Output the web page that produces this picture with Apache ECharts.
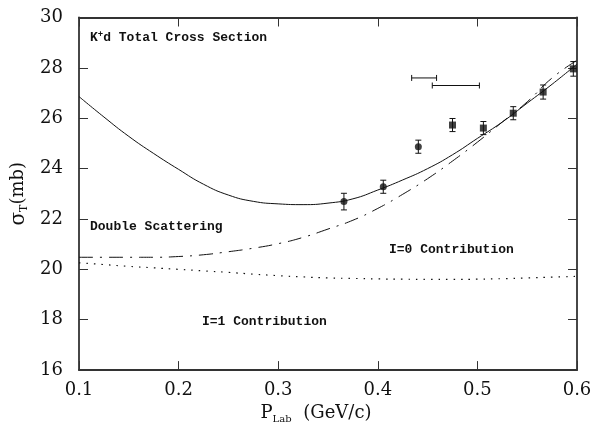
<!DOCTYPE html>
<html><head><meta charset="utf-8">
<script src="https://cdn.jsdelivr.net/npm/echarts@6/dist/echarts.min.js"></script>
<style>html,body{margin:0;padding:0;background:#fff}#c{width:599px;height:429px}</style>
</head><body><div id="c"></div>
<script>
// ---- data ----
const xTickValues = [0.1, 0.2, 0.3, 0.4, 0.5, 0.6];
const yTickValues = [16, 18, 20, 22, 24, 26, 28, 30];
const curveX = [0.1,0.125,0.15,0.175,0.2,0.225,0.25,0.275,0.3,0.325,0.35,0.375,0.4,0.425,0.45,0.475,0.5,0.525,0.55,0.575,0.6];
const totalCurve = [26.86,26.05,25.28,24.6,23.97,23.38,22.95,22.7,22.6,22.57,22.63,22.8,23.15,23.55,24.0,24.55,25.2,25.85,26.6,27.35,28.15];
const i0Curve = [20.48,20.48,20.48,20.48,20.51,20.58,20.7,20.84,21.02,21.27,21.6,21.95,22.42,22.98,23.6,24.3,25.05,25.85,26.65,27.6,28.3];
const i1Curve = [20.26,20.19,20.12,20.06,20.0,19.94,19.88,19.81,19.75,19.7,19.66,19.64,19.62,19.61,19.6,19.6,19.61,19.63,19.66,19.69,19.72];
const circleX = [0.366, 0.4055, 0.4407];
const circleY = [22.69, 23.28, 24.87];
const circleErr = [0.33, 0.26, 0.26];
const squareX = [0.475, 0.506, 0.536, 0.566, 0.5963];
const squareY = [25.73, 25.61, 26.2, 27.04, 27.96];
const squareErr = [0.26, 0.26, 0.26, 0.28, 0.29];
const resX0 = [0.434, 0.4547];
const resX1 = [0.459, 0.502];
const resY = [27.6, 27.3];

const zip = (a, b) => a.map((v, i) => [v, b[i]]);
const errData = zip(circleX, circleY).map((p, i) => [p[0], p[1], circleErr[i]])
  .concat(zip(squareX, squareY).map((p, i) => [p[0], p[1], squareErr[i]]));
const resData = resX0.map((v, i) => [v, resX1[i], resY[i]]);

const chart = echarts.init(document.getElementById('c'), null, {renderer: 'canvas'});
const ink = '#111';
const tickFont = {fontFamily: 'DejaVu Serif', fontSize: 18, color: ink};
const labelFont = {fontFamily: 'Liberation Mono', fontSize: 13, fontWeight: 'bold', fill: ink};

function vErr(params, api) {
  const x = api.value(0), y = api.value(1), e = api.value(2);
  const a = api.coord([x, y - e]), b = api.coord([x, y + e]);
  const w = 3;
  const st = {stroke: ink, lineWidth: 1};
  return {type: 'group', children: [
    {type: 'line', shape: {x1: a[0], y1: a[1], x2: b[0], y2: b[1]}, style: st},
    {type: 'line', shape: {x1: a[0] - w, y1: a[1], x2: a[0] + w, y2: a[1]}, style: st},
    {type: 'line', shape: {x1: b[0] - w, y1: b[1], x2: b[0] + w, y2: b[1]}, style: st}
  ]};
}
function hErr(params, api) {
  const a = api.coord([api.value(0), api.value(2)]), b = api.coord([api.value(1), api.value(2)]);
  const h = 3;
  const st = {stroke: ink, lineWidth: 1};
  return {type: 'group', children: [
    {type: 'line', shape: {x1: a[0], y1: a[1], x2: b[0], y2: b[1]}, style: st},
    {type: 'line', shape: {x1: a[0], y1: a[1] - h, x2: a[0], y2: a[1] + h}, style: st},
    {type: 'line', shape: {x1: b[0], y1: b[1] - h, x2: b[0], y2: b[1] + h}, style: st}
  ]};
}

const axisLine = {show: true, lineStyle: {color: '#333', width: 1.8}};
const axisTick = {show: true, inside: true, length: 9, lineStyle: {color: '#333', width: 1}};

chart.setOption({
  animation: false,
  backgroundColor: '#fff',
  grid: {left: 79, right: 22, top: 17.5, bottom: 56},
  xAxis: [{
    type: 'value', min: 0.1, max: 0.6, interval: 0.1, position: 'bottom',
    axisLine, axisTick, splitLine: {show: false},
    axisLabel: Object.assign({margin: 11, formatter: v => v.toFixed(1)}, tickFont),
    name: '{p|P}{s|Lab}{n| (GeV/c)}',
    nameLocation: 'middle', nameGap: 29,
    nameTextStyle: {padding: [0, 24, 0, 0], rich: {
      p: {fontFamily: 'DejaVu Serif', fontSize: 18, color: ink},
      s: {fontFamily: 'DejaVu Serif', fontSize: 10, color: ink, padding: [12, 6, 0, 0]},
      n: {fontFamily: 'DejaVu Serif', fontSize: 18, color: ink}
    }}
  }, {
    type: 'value', min: 0.1, max: 0.6, interval: 0.1, position: 'top',
    axisLine, axisTick, axisLabel: {show: false}, splitLine: {show: false}
  }],
  yAxis: [{
    type: 'value', min: 16, max: 30, interval: 2, position: 'left',
    axisLine, axisTick, splitLine: {show: false},
    axisLabel: Object.assign({margin: 16}, tickFont),
    name: '{g|σ}{s|T}{n|(mb)}',
    nameLocation: 'middle', nameGap: 45,
    nameTextStyle: {rich: {
      g: {fontFamily: 'DejaVu Serif', fontSize: 20, color: ink},
      s: {fontFamily: 'DejaVu Serif', fontSize: 11, color: ink, padding: [10, 0, 0, 0]},
      n: {fontFamily: 'DejaVu Serif', fontSize: 18, color: ink}
    }}
  }, {
    type: 'value', min: 16, max: 30, interval: 2, position: 'right',
    axisLine, axisTick, axisLabel: {show: false}, splitLine: {show: false}
  }],
  series: [
    {type: 'line', data: zip(curveX, totalCurve), showSymbol: false, smooth: true,
     lineStyle: {color: ink, width: 1}},
    {type: 'line', data: zip(curveX, i0Curve), showSymbol: false, smooth: true,
     lineStyle: {color: ink, width: 1, type: [14, 7, 2, 7]}},
    {type: 'line', data: zip(curveX, i1Curve), showSymbol: false, smooth: true,
     lineStyle: {color: ink, width: 1.2, type: [1.5, 6]}},
    {type: 'custom', data: errData, renderItem: vErr, z: 3},
    {type: 'custom', data: resData, renderItem: hErr, z: 3},
    {type: 'scatter', data: zip(circleX, circleY), symbol: 'circle', symbolSize: 7,
     itemStyle: {color: ink}, z: 4},
    {type: 'scatter', data: zip(squareX, squareY), symbol: 'rect', symbolSize: 7,
     itemStyle: {color: ink}, z: 4}
  ],
  graphic: [
    {type: 'text', left: 90, top: 30, style: {text: '{a|K}{b|+}{a|d Total Cross Section}',
      rich: {a: {fontFamily: 'Liberation Mono', fontSize: 13, fontWeight: 'bold', fill: ink},
             b: {fontFamily: 'Liberation Mono', fontSize: 9, fontWeight: 'bold', fill: ink, padding: [0, 0, 6, 0]}}}},
    {type: 'text', left: 90, top: 220, style: Object.assign({text: 'Double Scattering'}, labelFont)},
    {type: 'text', left: 389, top: 243, style: Object.assign({text: 'I=0 Contribution'}, labelFont)},
    {type: 'text', left: 202, top: 315, style: Object.assign({text: 'I=1 Contribution'}, labelFont)}
  ]
});
</script></body></html>
